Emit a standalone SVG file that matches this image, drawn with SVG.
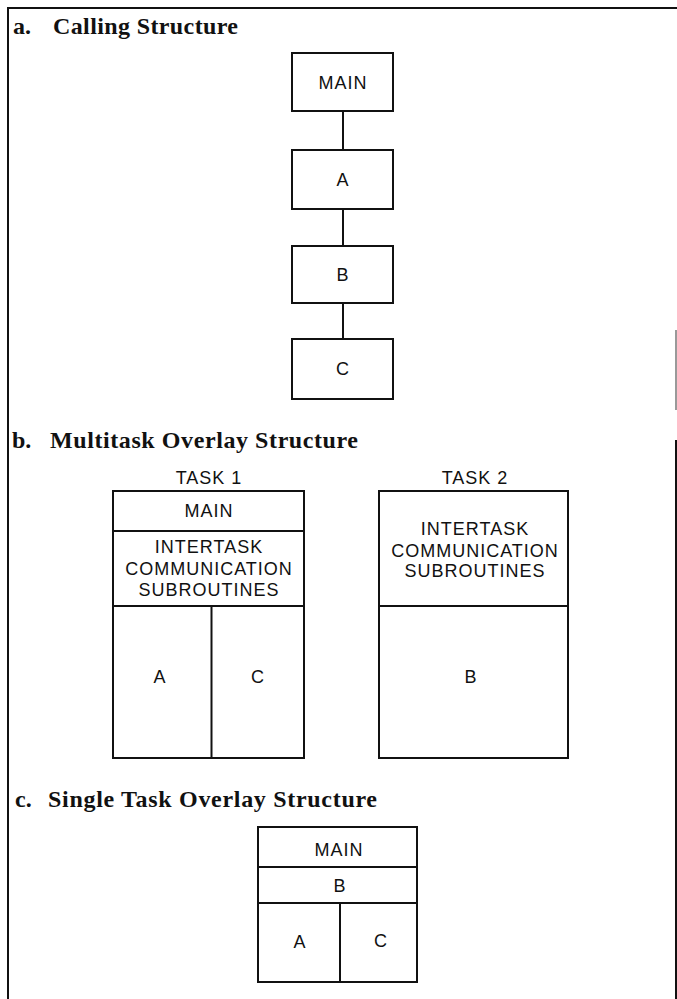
<svg xmlns="http://www.w3.org/2000/svg" width="677" height="999" viewBox="0 0 677 999">
<style>
  .frame { fill: none; stroke: #111; stroke-width: 2; }
  .box { fill: #fff; stroke: #111; stroke-width: 2; }
  .div { fill: none; stroke: #111; stroke-width: 2; }
  .conn { fill: none; stroke: #111; stroke-width: 2; }
  .title { font-family: "Liberation Serif", "Times New Roman", serif; font-weight: bold; font-size: 24px; fill: #111; }
  .lbl { font-family: "Liberation Sans", Arial, sans-serif; font-size: 18px; fill: #111; text-anchor: middle; letter-spacing: 1px; }
</style>
<rect width="677" height="999" fill="#fff"/>

<g id="frame">
  <path class="frame" d="M8,999 V8 H677"/>
  <path class="frame" d="M676,440 V999"/>
  <path d="M676,330 V410" stroke="#999" stroke-width="2" fill="none"/>
</g>

<g id="titles">
  <text class="title" y="34"><tspan x="13">a.</tspan><tspan x="53" textLength="185">Calling Structure</tspan></text>
  <text class="title" y="448"><tspan x="12">b.</tspan><tspan x="50" textLength="308">Multitask Overlay Structure</tspan></text>
  <text class="title" y="807"><tspan x="15">c.</tspan><tspan x="48" textLength="329">Single Task Overlay Structure</tspan></text>
</g>

<g id="connectors">
  <line class="conn" x1="343" y1="111" x2="343" y2="150"/>
  <line class="conn" x1="343" y1="209" x2="343" y2="246"/>
  <line class="conn" x1="343" y1="303" x2="343" y2="339"/>
</g>

<g id="call-main">
  <rect class="box" x="292" y="53" width="101" height="58"/>
  <text class="lbl" x="343" y="89">MAIN</text>
</g>
<g id="call-a">
  <rect class="box" x="292" y="150" width="101" height="59"/>
  <text class="lbl" x="343" y="186">A</text>
</g>
<g id="call-b">
  <rect class="box" x="292" y="246" width="101" height="57"/>
  <text class="lbl" x="343" y="281">B</text>
</g>
<g id="call-c">
  <rect class="box" x="292" y="339" width="101" height="60"/>
  <text class="lbl" x="343" y="375">C</text>
</g>

<g id="task1">
  <text class="lbl" x="209" y="484">TASK 1</text>
  <rect class="box" x="113" y="491" width="191" height="267"/>
  <line class="div" x1="113" y1="531" x2="304" y2="531"/>
  <line class="div" x1="113" y1="606" x2="304" y2="606"/>
  <line class="div" x1="211.5" y1="606" x2="211.5" y2="758"/>
  <text class="lbl" x="209" y="517">MAIN</text>
  <text class="lbl" x="209" y="553">INTERTASK</text>
  <text class="lbl" x="209" y="575">COMMUNICATION</text>
  <text class="lbl" x="209" y="596">SUBROUTINES</text>
  <text class="lbl" x="160" y="683">A</text>
  <text class="lbl" x="258" y="683">C</text>
</g>

<g id="task2">
  <text class="lbl" x="475" y="484">TASK 2</text>
  <rect class="box" x="379" y="491" width="189" height="267"/>
  <line class="div" x1="379" y1="606" x2="568" y2="606"/>
  <text class="lbl" x="475" y="535">INTERTASK</text>
  <text class="lbl" x="475" y="556.5">COMMUNICATION</text>
  <text class="lbl" x="475" y="577">SUBROUTINES</text>
  <text class="lbl" x="471" y="683">B</text>
</g>

<g id="single">
  <rect class="box" x="258" y="827" width="159" height="155"/>
  <line class="div" x1="258" y1="867" x2="417" y2="867"/>
  <line class="div" x1="258" y1="903" x2="417" y2="903"/>
  <line class="div" x1="340" y1="903" x2="340" y2="982"/>
  <text class="lbl" x="339" y="856">MAIN</text>
  <text class="lbl" x="340" y="892">B</text>
  <text class="lbl" x="300" y="948">A</text>
  <text class="lbl" x="381" y="947">C</text>
</g>
</svg>
